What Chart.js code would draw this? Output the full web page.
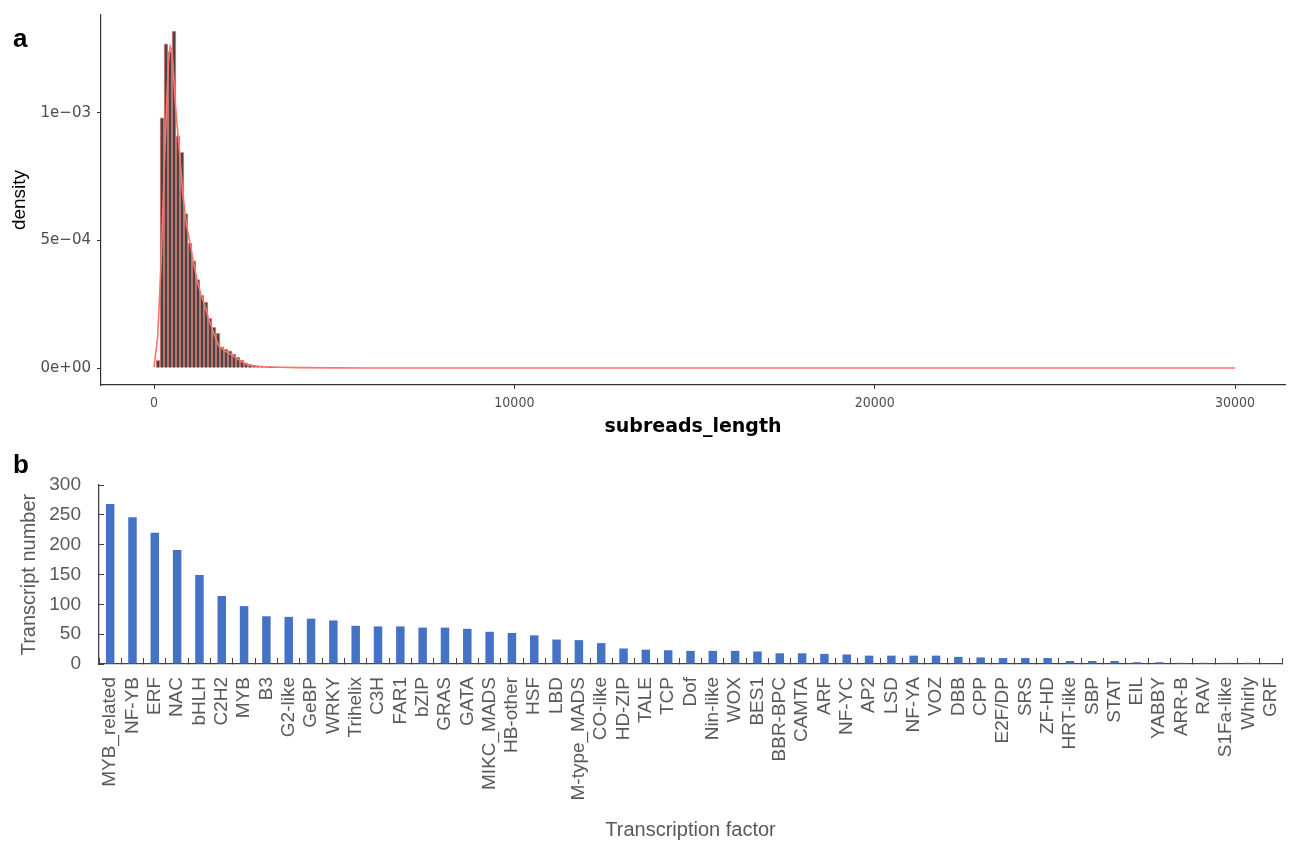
<!DOCTYPE html>
<html>
<head>
<meta charset="utf-8">
<script src="https://cdn.jsdelivr.net/npm/chart.js@4/dist/chart.umd.min.js"></script>
<style>
  html, body { margin: 0; padding: 0; background: #fff; }
  body { width: 1301px; height: 844px; position: relative; overflow: hidden; }
  #wrapA { position: absolute; left: 0; top: 0; width: 1301px; height: 445px; }
  #wrapB { position: absolute; left: 0; top: 445px; width: 1301px; height: 399px; }
  .tag { position: absolute; left: 13px; font: bold 26px 'Liberation Sans', Arial, sans-serif; line-height: 26px; color: #000; }
</style>
</head>
<body>
<div id="wrapA"><canvas id="chartA"></canvas></div>
<div id="wrapB"><canvas id="chartB"></canvas></div>
<div class="tag" style="top:25px">a</div>
<div class="tag" style="top:451px">b</div>

<script>
// ---- Panel a: subread length distribution ----
const binCenters = [111, 222, 333, 444, 555, 666, 777, 888, 999, 1110,
  1221, 1332, 1443, 1554, 1665, 1776, 1887, 1998, 2109, 2220,
  2331, 2442, 2553, 2664, 2775, 2886, 2997, 3108, 3219, 3330,
  3441, 3552, 3663, 3774, 3885, 3996, 4107, 4218, 4329, 4440];
const binDensity = [3.0e-5, 9.8e-4, 1.27e-3, 1.24e-3, 1.32e-3, 9.1e-4, 8.45e-4, 6.05e-4, 4.9e-4, 4.2e-4,
  3.47e-4, 2.85e-4, 2.58e-4, 1.95e-4, 1.6e-4, 1.36e-4, 8.3e-5, 7.4e-5, 6.7e-5, 5.5e-5,
  4.3e-5, 3.1e-5, 2.0e-5, 1.6e-5, 1.2e-5, 9e-6, 8e-6, 6e-6, 5e-6, 4e-6,
  3e-6, 3e-6, 2e-6, 2e-6, 2e-6, 1e-6, 1e-6, 1e-6, 1e-6, 1e-6];

const densityLength = [0, 100, 200, 300, 400, 450, 500, 600, 700, 800, 900, 1000, 1100, 1200,
  1300, 1400, 1500, 1600, 1700, 1800, 1900, 2000, 2200, 2400, 2600, 2800, 3000, 3500,
  4000, 5000, 6000, 8000, 10000, 15000, 20000, 25000, 30000];
const densityValue = [4e-6, 1.2e-4, 4.2e-4, 8.5e-4, 1.2e-3, 1.26e-3, 1.24e-3, 1.02e-3, 8.6e-4, 6.8e-4, 5.6e-4, 4.9e-4, 4.1e-4, 3.4e-4,
  2.9e-4, 2.5e-4, 2.0e-4, 1.6e-4, 1.2e-4, 8.5e-5, 7.5e-5, 6.5e-5, 4.8e-5, 2.8e-5, 1.2e-5, 8e-6, 5e-6, 3e-6,
  1.5e-6, 6e-7, 3e-7, 1e-7, 5e-8, 0, 0, 0, 0];

const lengthTicks = [0, 10000, 20000, 30000];
const densityTicks = [0, 5e-4, 1e-3];
const densityTickLabels = ['0e+00', '5e\u221204', '1e\u221203'];

// ---- Panel b: transcription factor families ----
const tfNames = ['MYB_related', 'NF-YB', 'ERF', 'NAC', 'bHLH', 'C2H2', 'MYB', 'B3', 'G2-like', 'GeBP',
  'WRKY', 'Trihelix', 'C3H', 'FAR1', 'bZIP', 'GRAS', 'GATA', 'MIKC_MADS', 'HB-other', 'HSF',
  'LBD', 'M-type_MADS', 'CO-like', 'HD-ZIP', 'TALE', 'TCP', 'Dof', 'Nin-like', 'WOX', 'BES1',
  'BBR-BPC', 'CAMTA', 'ARF', 'NF-YC', 'AP2', 'LSD', 'NF-YA', 'VOZ', 'DBB', 'CPP',
  'E2F/DP', 'SRS', 'ZF-HD', 'HRT-like', 'SBP', 'STAT', 'EIL', 'YABBY', 'ARR-B', 'RAV',
  'S1Fa-like', 'Whirly', 'GRF'];
const tfCounts = [268, 246, 220, 191, 149, 114, 97, 80, 79, 76,
  73, 64, 63, 63, 61, 61, 59, 54, 52, 48,
  41, 40, 35, 26, 24, 23, 22, 22, 22, 21,
  18, 18, 17, 16, 14, 14, 14, 14, 12, 11,
  10, 10, 10, 5, 5, 5, 3, 3, 2, 2,
  2, 2, 1];

Chart.defaults.animation = false;
Chart.defaults.devicePixelRatio = 1;

const sansA = "'Liberation Sans', Arial, Helvetica, sans-serif";
const wideA = "'DejaVu Sans', 'Liberation Sans', sans-serif";
const narrowA = "'Liberation Sans Narrow', 'DejaVu Sans Condensed', 'Liberation Sans', sans-serif";

new Chart(document.getElementById('chartA'), {
  data: {
    datasets: [
      {
        type: 'line',
        order: 0,
        data: densityLength.map((x, i) => ({ x: x, y: densityValue[i] })),
        borderColor: '#F8766D',
        borderWidth: 1.6,
        pointRadius: 0,
        tension: 0,
        fill: false
      },
      {
        type: 'bar',
        order: 1,
        data: binCenters.map((x, i) => ({ x: x, y: binDensity[i] })),
        backgroundColor: '#474747',
        borderColor: 'rgba(248,118,109,0.85)',
        borderWidth: 1,
        barPercentage: 1,
        categoryPercentage: 1
      }
    ]
  },
  options: {
    responsive: true,
    maintainAspectRatio: false,
    layout: { padding: { top: 13, right: 16, bottom: 0, left: 0 } },
    plugins: { legend: { display: false }, tooltip: { enabled: false } },
    scales: {
      x: {
        type: 'linear',
        offset: false,
        min: -1471,
        max: 31385,
        afterFit: s => { s.height = 60; s.paddingLeft = 0; s.paddingRight = 0; },
        afterBuildTicks: s => { s.ticks = lengthTicks.map(v => ({ value: v })); },
        grid: { display: true, offset: false, drawOnChartArea: false, drawTicks: true, tickLength: 4, tickColor: '#333', tickWidth: 1 },
        border: { display: true, color: '#333', width: 1.2 },
        ticks: { color: '#4d4d4d', font: { family: narrowA, size: 14 }, padding: 6, maxRotation: 0, callback: v => String(v) },
        title: { display: true, text: 'subreads_length', color: '#000', font: { family: wideA, size: 19, weight: 'bold' }, padding: { top: 0, bottom: 7 } }
      },
      y: {
        type: 'linear',
        min: -0.0000664,
        max: 0.001383,
        afterFit: s => { s.width = 101; },
        afterBuildTicks: s => { s.ticks = densityTicks.map(v => ({ value: v })); },
        grid: { display: true, drawOnChartArea: false, drawTicks: true, tickLength: 4, tickColor: '#333', tickWidth: 1 },
        border: { display: true, color: '#333', width: 1.2 },
        ticks: {
          color: '#4d4d4d', font: { family: wideA, size: 15 }, padding: 6,
          callback: v => densityTickLabels[densityTicks.indexOf(v)]
        },
        title: { display: true, text: 'density', color: '#000', font: { family: sansA, size: 19 }, padding: { top: 8, bottom: 0 } }
      }
    }
  }
});

const sansB = "'Liberation Sans', Arial, sans-serif";
const greyB = '#595959';

new Chart(document.getElementById('chartB'), {
  type: 'bar',
  data: {
    labels: tfNames,
    datasets: [{
      data: tfCounts,
      backgroundColor: '#4472C4',
      borderWidth: 0,
      barPercentage: 0.38,
      categoryPercentage: 1
    }]
  },
  options: {
    responsive: true,
    maintainAspectRatio: false,
    layout: { padding: { top: 40, right: 19, bottom: 0, left: 0 } },
    plugins: { legend: { display: false }, tooltip: { enabled: false } },
    scales: {
      x: {
        type: 'category',
        offset: true,
        afterFit: s => { s.height = 180; s.paddingLeft = 0; s.paddingRight = 0; },
        grid: { display: true, offset: true, drawOnChartArea: false, drawTicks: true, tickLength: -6, tickColor: '#444', tickWidth: 1 },
        border: { display: true, color: '#444', width: 1.3 },
        ticks: { color: greyB, font: { family: sansB, size: 19 }, padding: 19, minRotation: 90, maxRotation: 90, autoSkip: false },
        title: { display: true, text: 'Transcription factor', color: greyB, font: { family: sansB, size: 20 }, padding: { top: 0, bottom: 2 } }
      },
      y: {
        type: 'linear',
        min: 0,
        max: 300,
        afterFit: s => { s.width = 99; },
        grid: { display: true, drawOnChartArea: false, drawTicks: true, tickLength: -5, tickColor: '#444', tickWidth: 1 },
        border: { display: true, color: '#444', width: 1.3 },
        ticks: { stepSize: 50, color: greyB, font: { family: sansB, size: 19 }, padding: 23 },
        title: { display: true, text: 'Transcript number', color: greyB, font: { family: sansB, size: 20 }, padding: { top: 17, bottom: 0 } }
      }
    }
  }
});
</script>
</body>
</html>
